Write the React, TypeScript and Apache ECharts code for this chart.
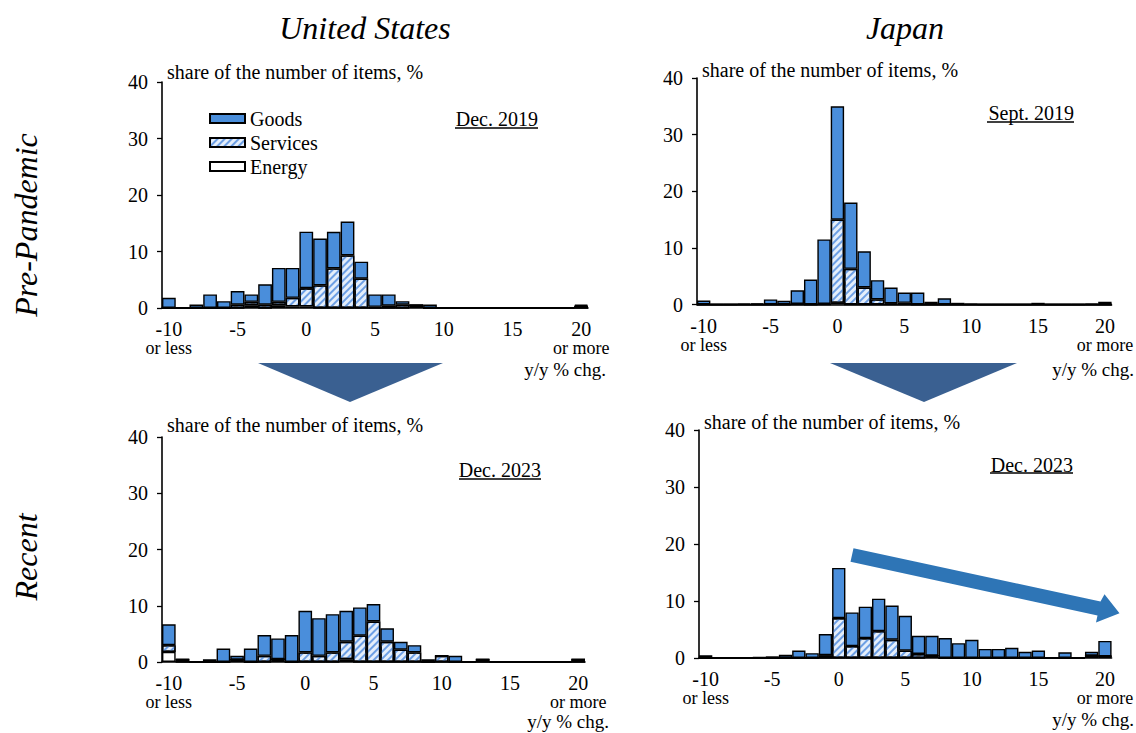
import React, { useEffect, useRef } from "react";
import * as echarts from "echarts";

// y/y % change bins, the ends are open-ended ("or less" / "or more")
const bins = [
  "-10", "-9", "-8", "-7", "-6", "-5", "-4", "-3", "-2", "-1",
  "0", "1", "2", "3", "4", "5", "6", "7", "8", "9",
  "10", "11", "12", "13", "14", "15", "16", "17", "18", "19", "20",
];

// United States, Dec. 2019
const usPreGoods = [1.8, 0, 0.6, 2.4, 1.2, 2.4, 1.3, 3.6, 6.0, 5.3, 10.0, 8.3, 6.5, 6.0, 3.0, 2.2, 2.0, 0.6, 0, 0.6, 0, 0, 0, 0, 0, 0, 0, 0, 0, 0, 0.2];
const usPreServices = [0, 0, 0, 0, 0, 0.6, 0.6, 0.6, 0.6, 1.5, 3.2, 4.0, 7.0, 9.3, 5.2, 0.2, 0.4, 0.6, 0, 0, 0, 0, 0, 0, 0, 0, 0, 0, 0, 0, 0.4];
const usPreEnergy = [0, 0, 0, 0, 0, 0, 0.5, 0, 0.5, 0.3, 0.3, 0, 0, 0, 0, 0, 0, 0, 0.5, 0, 0, 0, 0, 0, 0, 0, 0, 0, 0, 0, 0];

// United States, Dec. 2023
const usRecGoods = [3.7, 0, 0, 0.5, 2.4, 0.7, 2.4, 3.7, 3.7, 4.8, 7.4, 6.7, 6.8, 5.5, 5.0, 3.1, 2.4, 1.4, 1.3, 0.5, 0, 1.1, 0, 0, 0, 0, 0, 0, 0, 0, 0];
const usRecServices = [1.2, 0.5, 0, 0, 0, 0, 0, 1.1, 0, 0, 1.7, 1.1, 1.7, 3.1, 4.7, 7.2, 3.6, 2.2, 1.7, 0, 1.1, 0, 0, 0.5, 0, 0, 0, 0, 0, 0, 0.5];
const usRecEnergy = [1.8, 0, 0, 0, 0, 0.4, 0, 0, 0.5, 0, 0, 0, 0, 0.5, 0, 0, 0, 0, 0, 0, 0, 0, 0, 0, 0, 0, 0, 0, 0, 0, 0];

// Japan, Sept. 2019
const jpPreGoods = [0.7, 0, 0, 0.15, 0.2, 0.9, 0.65, 2.4, 4.4, 11.4, 20.0, 11.7, 6.4, 3.4, 2.8, 1.8, 2.1, 0.5, 1.1, 0.3, 0.1, 0, 0, 0, 0, 0.3, 0, 0, 0, 0.15, 0.5];
const jpPreServices = [0, 0, 0, 0, 0, 0, 0, 0.1, 0, 0.1, 14.7, 6.3, 3.0, 0.9, 0.2, 0.3, 0, 0, 0, 0, 0, 0, 0, 0, 0, 0, 0, 0, 0, 0, 0];
const jpPreEnergy = [0, 0, 0, 0, 0, 0, 0, 0, 0, 0, 0.3, 0, 0, 0, 0, 0, 0, 0, 0, 0, 0, 0, 0, 0, 0, 0, 0, 0, 0, 0, 0];

// Japan, Dec. 2023
const jpRecGoods = [0.5, 0.1, 0.1, 0, 0.2, 0.3, 0.55, 1.3, 0.85, 3.7, 8.8, 5.9, 5.5, 5.7, 6.0, 6.1, 3.2, 3.5, 3.5, 2.6, 3.2, 1.6, 1.6, 1.8, 1.1, 1.3, 0.1, 1.0, 0, 0.7, 2.7];
const jpRecServices = [0, 0, 0, 0, 0, 0, 0, 0, 0, 0.5, 7.0, 2.1, 3.5, 4.7, 3.2, 1.3, 0.7, 0, 0, 0, 0, 0, 0, 0, 0, 0, 0, 0, 0, 0, 0];
const jpRecEnergy = [0, 0, 0, 0, 0, 0, 0, 0, 0, 0, 0, 0, 0, 0, 0, 0, 0, 0.4, 0, 0, 0, 0, 0, 0, 0, 0, 0, 0, 0, 0.4, 0.3];

const panelDates = ["Dec. 2019", "Sept. 2019", "Dec. 2023", "Dec. 2023"];
const columnTitles = ["United States", "Japan"];
const rowTitles = ["Pre-Pandemic", "Recent"];
const yTicks = { min: 0, max: 40, interval: 10 };

const SERIF = "'Liberation Serif', 'Times New Roman', serif";
const GOODS = "#4a8edb";
const HATCH = "#6d9fe4";
const ARROW_DARK = "#3a6091";
const ARROW_BLUE = "#2e75b6";

const panels = [
  { goods: usPreGoods, services: usPreServices, energy: usPreEnergy, grid: { left: 162, top: 82, width: 426, height: 226 } },
  { goods: jpPreGoods, services: jpPreServices, energy: jpPreEnergy, grid: { left: 697, top: 78, width: 423, height: 226.5 } },
  { goods: usRecGoods, services: usRecServices, energy: usRecEnergy, grid: { left: 162, top: 437, width: 423, height: 225 } },
  { goods: jpRecGoods, services: jpRecServices, energy: jpRecEnergy, grid: { left: 699, top: 430, width: 423, height: 228 } },
];

const hatchDecal = {
  symbol: "rect",
  symbolSize: 1,
  color: HATCH,
  dashArrayX: [1, 0],
  dashArrayY: [2, 3],
  rotation: -Math.PI / 4,
};

function text(x: number, y: number, str: string, size: number, opts: any = {}) {
  return {
    type: "text",
    x,
    y,
    rotation: opts.rotation || 0,
    style: {
      text: str,
      fontFamily: SERIF,
      fontSize: size,
      fontStyle: opts.italic ? "italic" : "normal",
      fill: "#000",
      align: opts.align || "left",
      textAlign: opts.align || "left",
      verticalAlign: "middle",
      textVerticalAlign: "middle",
    },
  };
}

function underline(x1: number, x2: number, y: number) {
  return { type: "line", shape: { x1, y1: y, x2, y2: y }, style: { stroke: "#000", lineWidth: 1.3 } };
}

function buildOption() {
  const grid = panels.map((p) => ({ ...p.grid, containLabel: false }));
  const xAxis = panels.map((_, i) => ({
    type: "category",
    gridIndex: i,
    data: bins,
    axisLine: { lineStyle: { color: "#000", width: 1.6 } },
    axisTick: { alignWithLabel: true, interval: 0, length: 5, lineStyle: { color: "#000", width: 1.3 } },
    axisLabel: {
      interval: 4,
      margin: 11,
      color: "#000",
      fontFamily: SERIF,
      formatter: (v: string, idx: number) => {
        if (idx === 0) return `{n|${v}}\n{s|or less}`;
        if (idx === bins.length - 1) return `{n|${v}}\n{s|or more}`;
        return `{n|${v}}`;
      },
      rich: {
        n: { fontSize: 20, lineHeight: 20, fontFamily: SERIF, color: "#000" },
        s: { fontSize: 18, lineHeight: 18, fontFamily: SERIF, color: "#000" },
      },
    },
  }));
  const yAxis = panels.map((_, i) => ({
    type: "value",
    gridIndex: i,
    ...yTicks,
    splitLine: { show: false },
    axisLine: { show: true, lineStyle: { color: "#000", width: 1.6 } },
    axisTick: { show: true, length: 5, lineStyle: { color: "#000", width: 1.3 } },
    axisLabel: { color: "#000", fontFamily: SERIF, fontSize: 20, margin: 14 },
  }));

  const border = { borderColor: "#000", borderWidth: 1.4 };
  const series: any[] = [];
  panels.forEach((p, i) => {
    const common = { type: "bar", xAxisIndex: i, yAxisIndex: i, stack: `s${i}`, barCategoryGap: "0%" };
    series.push({ ...common, name: "Energy", data: p.energy, itemStyle: { color: "#ffffff", ...border } });
    series.push({ ...common, name: "Services", data: p.services, itemStyle: { color: "#e4eefb", decal: hatchDecal, ...border } });
    series.push({ ...common, name: "Goods", data: p.goods, itemStyle: { color: GOODS, ...border } });
  });

  const graphic: any[] = [
    text(365, 28, columnTitles[0], 32, { italic: true, align: "center" }),
    text(905, 28, columnTitles[1], 32, { italic: true, align: "center" }),
    text(26, 225, rowTitles[0], 32, { italic: true, align: "center", rotation: Math.PI / 2 }),
    text(26, 557, rowTitles[1], 32, { italic: true, align: "center", rotation: Math.PI / 2 }),

    text(167, 72, "share of the number of items, %", 20),
    text(702, 70, "share of the number of items, %", 20),
    text(167, 425, "share of the number of items, %", 20),
    text(704, 422, "share of the number of items, %", 20),

    text(538, 119, panelDates[0], 20, { align: "right" }),
    underline(455, 538, 128),
    text(1074, 113, panelDates[1], 20, { align: "right" }),
    underline(987, 1074, 122),
    text(541, 470, panelDates[2], 20, { align: "right" }),
    underline(459, 541, 479),
    text(1073, 465, panelDates[3], 20, { align: "right" }),
    underline(990, 1073, 473),

    text(606, 369, "y/y % chg.", 19, { align: "right" }),
    text(1134, 369, "y/y % chg.", 19, { align: "right" }),
    text(609, 721, "y/y % chg.", 19, { align: "right" }),
    text(1134, 719, "y/y % chg.", 19, { align: "right" }),

    // transition markers between the two rows
    { type: "polygon", shape: { points: [[258, 363], [443, 363], [350, 402]] }, style: { fill: ARROW_DARK } },
    { type: "polygon", shape: { points: [[830, 363], [1017, 363], [924, 402]] }, style: { fill: ARROW_DARK } },

    // trend arrow across the recent Japan distribution
    {
      type: "polygon",
      shape: {
        points: [
          [850.5, 561.8], [1097.5, 615.5], [1096, 622.5], [1119.5, 613.3],
          [1104.5, 594.3], [1100.5, 601.5], [853.5, 548.2],
        ],
      },
      style: { fill: ARROW_BLUE },
    },
  ];

  return {
    animation: false,
    backgroundColor: "#ffffff",
    grid,
    xAxis,
    yAxis,
    legend: {
      data: ["Goods", "Services", "Energy"],
      orient: "vertical",
      left: 209,
      top: 107,
      itemWidth: 35,
      itemHeight: 9,
      itemGap: 1,
      selectedMode: false,
      icon: "rect",
      padding: 0,
      textStyle: { fontFamily: SERIF, fontSize: 20, color: "#000", lineHeight: 23 },
    },
    series,
    graphic,
  };
}

export default function App() {
  const ref = useRef<HTMLDivElement>(null);
  useEffect(() => {
    if (!ref.current) return;
    const chart = echarts.init(ref.current, undefined, { renderer: "svg" });
    chart.setOption(buildOption() as any);
    return () => chart.dispose();
  }, []);
  return (
    <div
      ref={ref}
      style={{ position: "fixed", left: 0, top: 0, width: 1136, height: 733, background: "#fff" }}
    />
  );
}
